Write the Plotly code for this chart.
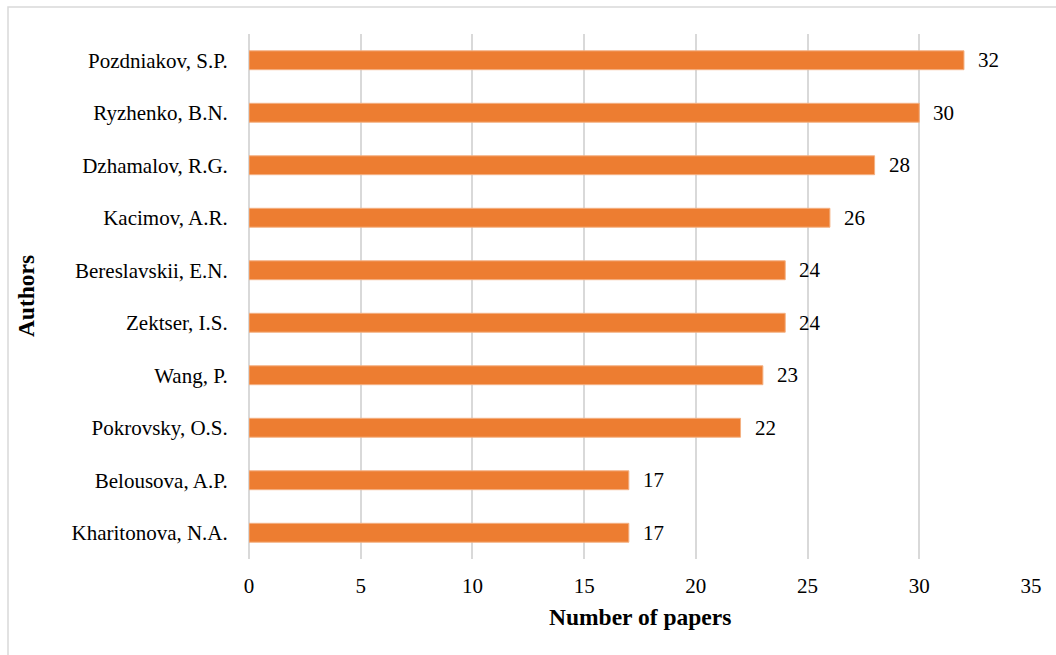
import plotly.graph_objects as go

authors = ["Pozdniakov, S.P.", "Ryzhenko, B.N.", "Dzhamalov, R.G.", "Kacimov, A.R.",
           "Bereslavskii, E.N.", "Zektser, I.S.", "Wang, P.", "Pokrovsky, O.S.",
           "Belousova, A.P.", "Kharitonova, N.A."]
papers = [32, 30, 28, 26, 24, 24, 23, 22, 17, 17]
x_ticks = [0, 5, 10, 15, 20, 25, 30, 35]

FONT = "Liberation Serif, Times New Roman, serif"
ORANGE = "#ED7D31"
TICK = 21
TITLE = 23.5

fig = go.Figure()
fig.add_trace(go.Bar(
    x=papers, y=authors, orientation="h",
    marker=dict(color=ORANGE, line=dict(color="#F4B183", width=1)),
    width=0.36, hoverinfo="skip",
))

annotations = []
for a, v in zip(authors, papers):
    annotations.append(dict(x=v, y=a, xref="x", yref="y", text=str(v), showarrow=False,
                            xanchor="left", yanchor="middle", xshift=12,
                            font=dict(family=FONT, size=TICK, color="#000")))
annotations.append(dict(x=0.5, y=-0.1105, xref="paper", yref="paper", text="<b>Number of papers</b>",
                        showarrow=False, xanchor="center", yanchor="middle",
                        font=dict(family=FONT, size=TITLE, color="#000")))
annotations.append(dict(x=-0.285, y=0.501, xref="paper", yref="paper", text="<b>Authors</b>",
                        showarrow=False, xanchor="center", yanchor="middle", textangle=-90,
                        font=dict(family=FONT, size=TITLE, color="#000")))

fig.update_layout(
    width=1056, height=655,
    margin=dict(l=249, r=25, t=34, b=96),
    paper_bgcolor="white", plot_bgcolor="white",
    showlegend=False,
    font=dict(family=FONT, size=TICK, color="#000"),
    annotations=annotations,
    xaxis=dict(range=[0, 35], tickvals=x_ticks, showgrid=True, gridcolor="#D9D9D9", gridwidth=1.5,
               zeroline=True, zerolinecolor="#D9D9D9", zerolinewidth=1.5, showline=False,
               ticks="outside", ticklen=8, tickcolor="rgba(0,0,0,0)",
               tickfont=dict(family=FONT, size=TICK, color="#000"), fixedrange=True),
    yaxis=dict(autorange="reversed", showgrid=False, zeroline=False, showline=False,
               ticks="outside", ticklen=16, tickcolor="rgba(0,0,0,0)",
               tickfont=dict(family=FONT, size=TICK, color="#000"), fixedrange=True),
    shapes=[dict(type="rect", xref="paper", yref="paper",
                 x0=(8 - 249) / 782, x1=(1070 - 249) / 782,
                 y0=(559 - 670) / 525, y1=(559 - 7) / 525,
                 line=dict(color="#D9D9D9", width=1.5), layer="below")],
)

fig.write_html("out.html")
